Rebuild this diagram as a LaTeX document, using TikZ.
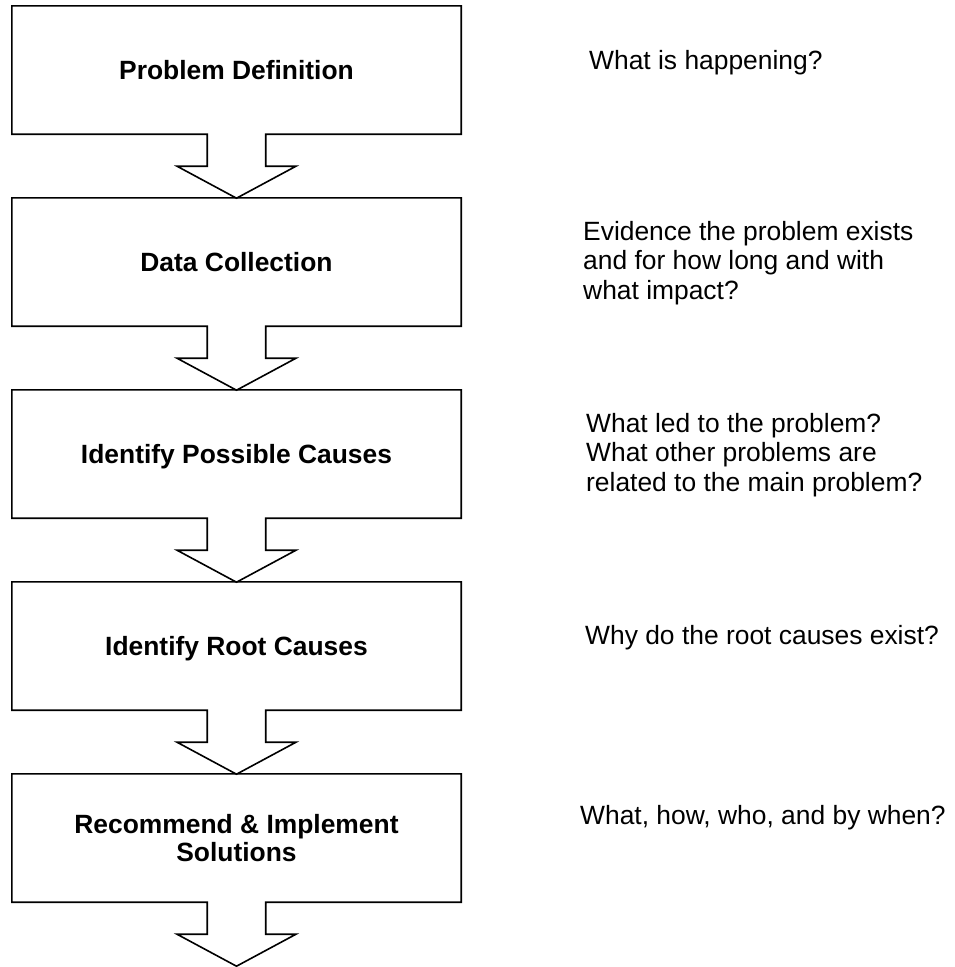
\documentclass[tikz,border=0pt]{standalone}
\usepackage{fontspec}
\setmainfont{Liberation Sans}
\usepackage{tikz}

\begin{document}
\begin{tikzpicture}[x=1pt,y=-1pt,
  stepbox/.style={minimum width=449pt,minimum height=128pt,inner sep=0pt,
    align=center,text depth=0pt,
    font=\fontsize{26.4}{28}\selectfont\bfseries},
  note/.style={anchor=base west,inner sep=0pt,align=left,
    font=\fontsize{26.4}{29.5}\selectfont},
  outline/.style={line width=1.6pt,line join=miter}]
  \useasboundingbox (0,0) rectangle (954,967);
  % process steps
  \node[stepbox] (s1) at (236.5,70)  {Problem Definition};
  \node[stepbox] (s2) at (236.5,262) {Data Collection};
  \node[stepbox] (s3) at (236.5,454) {Identify Possible Causes};
  \node[stepbox] (s4) at (236.5,646) {Identify Root Causes};
  \node[stepbox] (s5) at (236.5,838) {Recommend \& Implement\\Solutions};
  % box outline with its down arrow
  \foreach \n in {s1,s2,s3,s4,s5}
    \draw[outline] ([xshift=-29.25pt]\n.south) -- (\n.south west)
      -- (\n.north west) -- (\n.north east) -- (\n.south east)
      -- ([xshift=29.25pt]\n.south) -- ++(0,32) -- ++(30.25,0)
      -- ++(-59.5,32) -- ++(-59.5,-32) -- ++(30.25,0) -- cycle;
  % questions
  \node[note] (q1) at (589,69)  {What is happening?};
  \node[note] (q2) at (583,299) {Evidence the problem exists\\and for how long and with\\what impact?};
  \node[note] (q3) at (586,491) {What led to the problem?\\What other problems are\\related to the main problem?};
  \node[note] (q4) at (585,644) {Why do the root causes exist?};
  \node[note] (q5) at (580,824) {What, how, who, and by when?};
\end{tikzpicture}
\end{document}
